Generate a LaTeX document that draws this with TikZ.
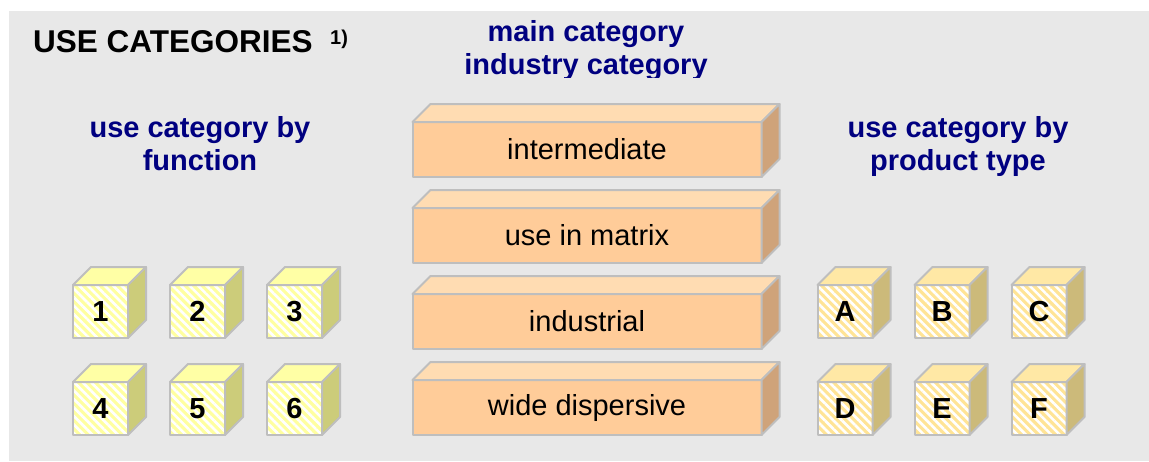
\documentclass[tikz,border=0pt]{standalone}
\usepackage{fontspec}
\setmainfont{Liberation Sans}
\usetikzlibrary{positioning,calc,patterns.meta}

\definecolor{bggray}{RGB}{232,232,232}
\definecolor{edgegray}{RGB}{190,190,190}
\definecolor{headblue}{RGB}{0,0,128}
\definecolor{barfront}{RGB}{255,204,153}
\definecolor{bartop}{RGB}{255,220,178}
\definecolor{barside}{RGB}{207,163,122}
\definecolor{yelfront}{RGB}{255,255,160}
\definecolor{yeltop}{RGB}{255,255,165}
\definecolor{yelside}{RGB}{204,204,122}
\definecolor{ambfront}{RGB}{255,228,150}
\definecolor{ambtop}{RGB}{255,232,165}
\definecolor{ambside}{RGB}{204,186,122}

\tikzset{
  face/.style={draw=edgegray, line width=2pt, line join=round},
  front/.style={face, outer sep=0pt, inner sep=0pt},
  stripes/.style={pattern={Lines[angle=-45,distance=6pt,line width=2.6pt]}, pattern color=white},
  cubeF/.style={front, minimum width=55pt, minimum height=53pt,
    preaction={fill=#1}, stripes, font=\fontsize{29}{29}\selectfont\bfseries},
  barF/.style={front, fill=barfront, minimum width=349pt, minimum height=55pt,
    font=\fontsize{29}{29}\selectfont},
  heading/.style={align=center, inner sep=0pt, text=headblue,
    font=\fontsize{29}{33}\selectfont\bfseries},
}

\begin{document}
\begin{tikzpicture}[x=1pt,y=-1pt]
    \useasboundingbox (0,0) rectangle (1149,461);
    \fill[bggray] (9,11) rectangle (1149,461);

    % titles
    \node[anchor=base west, inner sep=0pt, font=\fontsize{31.5}{31.5}\selectfont\bfseries] (title) at (33,52) {USE CATEGORIES};
    \node[anchor=base west, inner sep=0pt, font=\fontsize{20}{20}\selectfont\bfseries] (note) at (330,44) {1)};
    \begin{scope}
        \clip (9,11) rectangle (1149,77);
        \node[heading, anchor=north] (mainhd) at (586,20) {main category\\industry category};
    \end{scope}
    \node[heading, anchor=north] (fnhd) at (200,116) {use category by\\function};
    \node[heading, anchor=north] (prhd) at (958,116) {use category by\\product type};

    % bars
    \node[barF] (b1) at (587,149.5) {intermediate};
    \node[barF, below=31pt of b1] (b2) {use in matrix};
    \node[barF, below=31pt of b2] (b3) {industrial};
    \node[barF, below=31pt of b3] (b4) {wide dispersive};

    % cubes by function
    \node[cubeF=yelfront] (c1) at (100.5,311.5) {1};
    \node[cubeF=yelfront, right=42pt of c1] (c2) {2};
    \node[cubeF=yelfront, right=42pt of c2] (c3) {3};
    \node[cubeF=yelfront, below=44pt of c1] (c4) {4};
    \node[cubeF=yelfront, right=42pt of c4] (c5) {5};
    \node[cubeF=yelfront, right=42pt of c5] (c6) {6};

    % cubes by product type
    \node[cubeF=ambfront] (cA) at (845,311.5) {A};
    \node[cubeF=ambfront, right=42pt of cA] (cB) {B};
    \node[cubeF=ambfront, right=42pt of cB] (cC) {C};
    \node[cubeF=ambfront, below=44pt of cA] (cD) {D};
    \node[cubeF=ambfront, right=42pt of cD] (cE) {E};
    \node[cubeF=ambfront, right=42pt of cE] (cF) {F};

    % top and side faces
    \foreach \n/\ftop/\fside in {b1/bartop/barside,b2/bartop/barside,b3/bartop/barside,b4/bartop/barside,
        c1/yeltop/yelside,c2/yeltop/yelside,c3/yeltop/yelside,c4/yeltop/yelside,c5/yeltop/yelside,c6/yeltop/yelside,
        cA/ambtop/ambside,cB/ambtop/ambside,cC/ambtop/ambside,cD/ambtop/ambside,cE/ambtop/ambside,cF/ambtop/ambside} {
        \draw[face, fill=\ftop] (\n.north west) -- ($(\n.north west)+(18pt,18pt)$)
            -- ($(\n.north east)+(18pt,18pt)$) -- (\n.north east) -- cycle;
        \draw[face, fill=\fside] (\n.north east) -- ($(\n.north east)+(18pt,18pt)$)
            -- ($(\n.south east)+(18pt,18pt)$) -- (\n.south east) -- cycle;
    }
\end{tikzpicture}
\end{document}
